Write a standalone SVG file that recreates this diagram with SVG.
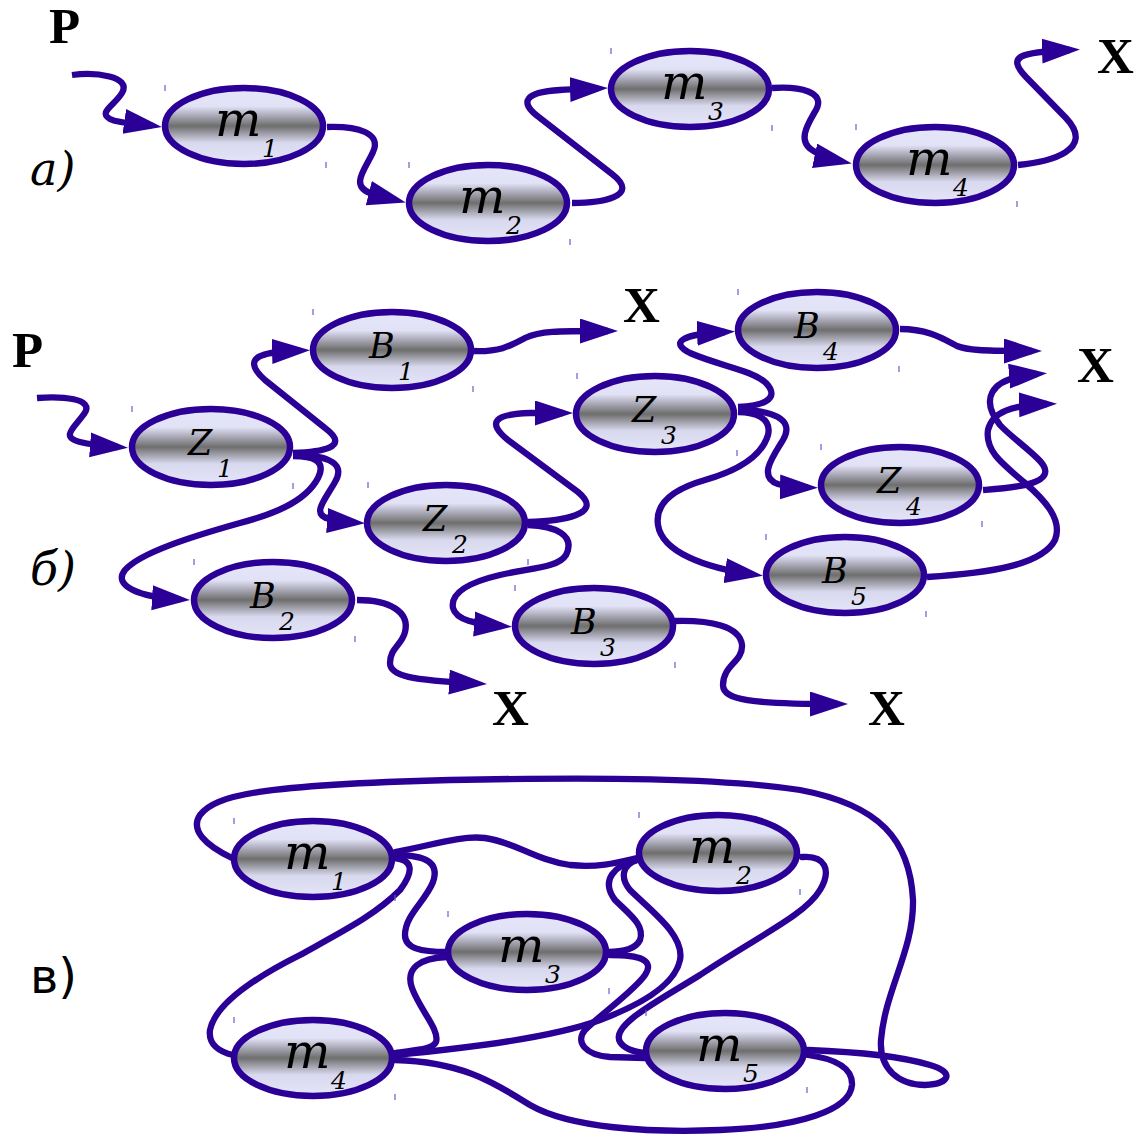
<svg xmlns="http://www.w3.org/2000/svg" width="1141" height="1137" viewBox="0 0 1141 1137">
<defs>
<linearGradient id="g" x1="0" y1="0" x2="0" y2="1">
<stop offset="0" stop-color="#e6e6fa"/>
<stop offset="0.24" stop-color="#e2e2f6"/>
<stop offset="0.34" stop-color="#b4b4c4"/>
<stop offset="0.5" stop-color="#6e6e6e"/>
<stop offset="0.62" stop-color="#a8a8b4"/>
<stop offset="0.72" stop-color="#d8d8ee"/>
<stop offset="1" stop-color="#e6e6fa"/>
</linearGradient>
<marker id="ah" markerUnits="userSpaceOnUse" markerWidth="40" markerHeight="26" refX="28" refY="12.5" orient="auto">
<path d="M0,0 L38,12.5 L0,25 Z" fill="#2b0096"/>
</marker>
</defs>
<style>
.n ellipse{fill:url(#g);stroke:#2b0096;stroke-width:6.5}
.n line{stroke:#6a5acd;stroke-width:1.2}
.c path{fill:none;stroke:#2b0096;stroke-width:6.3;stroke-linecap:round}
.c path.a{marker-end:url(#ah);stroke-linecap:butt}
.t{font-family:"DejaVu Serif",serif;font-style:italic;fill:#000}
.big{font-size:49px}
.mid{font-size:35px}
.sub{font-size:25px}
.lbl{font-family:"Liberation Serif","Times New Roman",serif;font-weight:bold;font-size:51px;fill:#000}
.sec{font-family:"DejaVu Serif",serif;font-style:italic;font-size:46px;fill:#000}
.sec2{font-family:"DejaVu Sans",sans-serif;font-size:48px;fill:#000}
</style>
<rect width="1141" height="1137" fill="#ffffff"/>

<g id="connectors" class="c">
<!-- section a -->
<path class="a" d="M72,75 C95,72 132,76 122,93 C114,106 98,112 110,119 C120,124 135,123 152,125.5"/>
<path class="a" d="M327,127 C358,126 382,133 373,152 C365,170 350,185 370,193 C378,196 388,198 396,200"/>
<path class="a" d="M572,203 C600,203 642,197 612,174 L540,118 C518,102 525,92 560,90 C575,89 585,89 598,88.5"/>
<path class="a" d="M772,88 C800,86 826,92 816,110 C808,124 797,140 812,150 C820,156 830,159 842,161.5"/>
<path class="a" d="M1018,165 C1050,162 1096,150 1066,118 L1026,77 C1006,56 1020,52 1070,50"/>
<!-- section b -->
<path class="a" d="M37,398 C60,396 96,398 84,414 C74,428 60,437 80,442 C92,445 105,446 118,447"/>
<path class="a" d="M293,453 C320,452 352,448 325,428 L265,380 C245,362 254,354 280,352 C288,351 294,350.7 300,350.5"/>
<path class="a" d="M293,455 C320,455 348,460 335,482 C325,500 310,515 330,519 C340,521 348,522 355,522.5"/>
<path class="a" d="M293,456 C312,456 327,460 318,478 C305,503 270,515 240,523 C190,537 140,553 125,570 C112,586 140,597 180,599.5"/>
<path class="a" d="M473,351 C500,352 510,346 525,338 C540,331 555,331 608,331"/>
<path class="a" d="M528,522 C560,521 606,515 578,492 L508,440 C486,422 495,414 530,413 L563,413"/>
<path class="a" d="M528,525 C555,526 576,535 566,555 C558,568 530,568 500,575 C470,582 450,592 453,608 C456,620 475,624 502,626"/>
<path class="a" d="M357,600 C390,600 410,612 405,632 C402,645 390,648 390,663 C390,676 410,680 477,683.5"/>
<path class="a" d="M675,621 C710,620 740,626 742,645 C743,662 723,665 723,685 C723,700 750,704 838,704"/>
<path class="a" d="M738,407 C760,406 782,400 766,383 C752,370 720,366 690,353 C670,343 680,334 725,332"/>
<path class="a" d="M738,410 C770,410 796,418 783,440 C772,458 758,477 778,484 C788,487 798,487.3 808,487.5"/>
<path class="a" d="M738,412 C755,412 772,418 768,435 C762,455 740,470 705,480 C670,490 655,505 658,525 C662,552 705,568 753,574.5"/>
<path class="a" d="M900,329 C930,329 945,340 957,346 C967,350 980,351 1032,351"/>
<path class="a" d="M983,490 C1010,488 1062,485 1040,461 C1030,450 1010,436 1000,425 C982,402 985,378 1037,374"/>
<path class="a" d="M927,577 C990,573 1042,565 1055,540 C1063,520 1045,500 1025,483 C1000,462 985,450 988,430 C992,412 1012,405 1047,404"/>
<!-- section v -->
<path d="M232,858 C205,845 190,830 200,815 C215,795 260,785 450,780 C600,777 720,778 800,790 C880,805 910,840 913,900 C914,950 885,990 881,1040 C879,1070 900,1085 925,1085 C950,1084 955,1072 930,1065 C900,1056 860,1052 808,1050"/>
<path d="M395,852 C430,846 460,835 485,838 C515,842 535,860 570,865 C600,868 620,862 637,858"/>
<path d="M395,855 C425,855 440,862 433,882 C425,902 405,915 405,935 C405,948 420,952 447,952"/>
<path d="M395,858 C412,860 415,870 400,890 C375,915 345,930 300,955 C250,980 215,1005 210,1030 C208,1045 220,1052 233,1055"/>
<path d="M447,957 C420,958 405,968 412,988 C420,1010 440,1030 436,1042 C432,1050 415,1050 395,1053"/>
<path d="M395,1055 C480,1047 560,1035 600,1020 C640,1005 675,985 680,960 C685,935 650,910 630,890 C620,878 622,865 637,860"/>
<path d="M637,860 C615,865 600,880 615,900 C630,915 645,925 640,940 C635,950 620,952 608,952"/>
<path d="M610,955 C640,955 655,960 645,975 C635,990 600,1015 585,1030 C575,1042 585,1055 610,1057 L645,1058"/>
<path d="M802,857 C825,855 832,870 820,890 C805,915 760,935 700,975 C660,1000 610,1025 620,1042 C625,1050 635,1052 645,1053"/>
<path d="M395,1060 C460,1062 490,1080 530,1105 C570,1128 650,1133 720,1130 C800,1127 850,1110 852,1085 C853,1065 830,1058 808,1055"/>
</g>

<!-- section a nodes -->
<g id="a_m1" class="n"><ellipse cx="244" cy="126" rx="79" ry="38"/><line x1="165" y1="85" x2="165" y2="91"/><line x1="326" y1="162" x2="326" y2="168"/><text class="t big" x="215" y="136">m</text><text class="t sub" x="262" y="157">1</text></g>
<g id="a_m2" class="n"><ellipse cx="488" cy="203" rx="79" ry="38"/><line x1="409" y1="162" x2="409" y2="168"/><line x1="570" y1="239" x2="570" y2="245"/><text class="t big" x="459" y="213">m</text><text class="t sub" x="506" y="234">2</text></g>
<g id="a_m3" class="n"><ellipse cx="690" cy="89" rx="79" ry="38"/><line x1="611" y1="48" x2="611" y2="54"/><line x1="772" y1="125" x2="772" y2="131"/><text class="t big" x="661" y="99">m</text><text class="t sub" x="708" y="120">3</text></g>
<g id="a_m4" class="n"><ellipse cx="935" cy="165" rx="79" ry="38"/><line x1="856" y1="124" x2="856" y2="130"/><line x1="1017" y1="201" x2="1017" y2="207"/><text class="t big" x="906" y="175">m</text><text class="t sub" x="953" y="196">4</text></g>

<!-- section b nodes -->
<g id="b_Z1" class="n"><ellipse cx="211" cy="447" rx="79" ry="38"/><line x1="132" y1="406" x2="132" y2="412"/><line x1="293" y1="483" x2="293" y2="489"/><text class="t mid" x="188" y="455">Z</text><text class="t sub" x="217" y="477">1</text></g>
<g id="b_B1" class="n"><ellipse cx="392" cy="350" rx="79" ry="38"/><line x1="313" y1="309" x2="313" y2="315"/><line x1="473" y1="386" x2="473" y2="392"/><text class="t mid" x="369" y="358">B</text><text class="t sub" x="398" y="380">1</text></g>
<g id="b_Z2" class="n"><ellipse cx="446" cy="523" rx="79" ry="38"/><line x1="368" y1="482" x2="368" y2="488"/><line x1="528" y1="559" x2="528" y2="565"/><text class="t mid" x="423" y="531">Z</text><text class="t sub" x="452" y="553">2</text></g>
<g id="b_B2" class="n"><ellipse cx="273" cy="600" rx="79" ry="38"/><line x1="194" y1="559" x2="194" y2="565"/><line x1="355" y1="636" x2="355" y2="642"/><text class="t mid" x="250" y="608">B</text><text class="t sub" x="279" y="630">2</text></g>
<g id="b_Z3" class="n"><ellipse cx="655" cy="414" rx="79" ry="38"/><line x1="577" y1="373" x2="577" y2="379"/><line x1="737" y1="450" x2="737" y2="456"/><text class="t mid" x="632" y="422">Z</text><text class="t sub" x="661" y="444">3</text></g>
<g id="b_B3" class="n"><ellipse cx="594" cy="626" rx="79" ry="38"/><line x1="515" y1="585" x2="515" y2="591"/><line x1="675" y1="662" x2="675" y2="668"/><text class="t mid" x="571" y="634">B</text><text class="t sub" x="600" y="656">3</text></g>
<g id="b_B4" class="n"><ellipse cx="817" cy="330" rx="79" ry="38"/><line x1="738" y1="289" x2="738" y2="295"/><line x1="899" y1="366" x2="899" y2="372"/><text class="t mid" x="794" y="338">B</text><text class="t sub" x="823" y="360">4</text></g>
<g id="b_Z4" class="n"><ellipse cx="900" cy="485" rx="79" ry="38"/><line x1="821" y1="444" x2="821" y2="450"/><line x1="982" y1="521" x2="982" y2="527"/><text class="t mid" x="877" y="493">Z</text><text class="t sub" x="906" y="515">4</text></g>
<g id="b_B5" class="n"><ellipse cx="845" cy="575" rx="79" ry="38"/><line x1="766" y1="534" x2="766" y2="540"/><line x1="926" y1="611" x2="926" y2="617"/><text class="t mid" x="822" y="583">B</text><text class="t sub" x="851" y="605">5</text></g>

<!-- section v nodes -->
<g id="v_m1" class="n"><ellipse cx="313" cy="859" rx="79" ry="38"/><line x1="234" y1="818" x2="234" y2="824"/><line x1="395" y1="895" x2="395" y2="901"/><text class="t big" x="284" y="869">m</text><text class="t sub" x="331" y="890">1</text></g>
<g id="v_m2" class="n"><ellipse cx="718" cy="853" rx="79" ry="38"/><line x1="639" y1="812" x2="639" y2="818"/><line x1="800" y1="889" x2="800" y2="895"/><text class="t big" x="689" y="863">m</text><text class="t sub" x="736" y="884">2</text></g>
<g id="v_m3" class="n"><ellipse cx="527" cy="952" rx="79" ry="38"/><line x1="448" y1="911" x2="448" y2="917"/><line x1="609" y1="988" x2="609" y2="994"/><text class="t big" x="498" y="962">m</text><text class="t sub" x="545" y="983">3</text></g>
<g id="v_m4" class="n"><ellipse cx="313" cy="1058" rx="79" ry="38"/><line x1="234" y1="1017" x2="234" y2="1023"/><line x1="395" y1="1094" x2="395" y2="1100"/><text class="t big" x="284" y="1068">m</text><text class="t sub" x="331" y="1089">4</text></g>
<g id="v_m5" class="n"><ellipse cx="725" cy="1051" rx="79" ry="38"/><line x1="646" y1="1010" x2="646" y2="1016"/><line x1="807" y1="1087" x2="807" y2="1093"/><text class="t big" x="696" y="1061">m</text><text class="t sub" x="743" y="1082">5</text></g>

<g id="labels">
<text class="lbl" x="49" y="43">P</text>
<text class="lbl" x="1097" y="73">X</text>
<text class="lbl" x="12" y="367">P</text>
<text class="lbl" x="623" y="322">X</text>
<text class="lbl" x="1077" y="382">X</text>
<text class="lbl" x="492" y="725">X</text>
<text class="lbl" x="868" y="725">X</text>
<text class="sec" x="30" y="185">а)</text>
<text class="sec" x="30" y="585">б)</text>
<text class="sec2" x="30" y="993">в)</text>
</g>
</svg>
